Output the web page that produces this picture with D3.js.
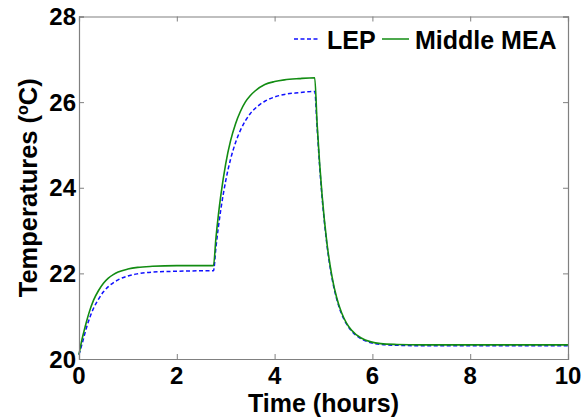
<!DOCTYPE html>
<html>
<head>
<meta charset="utf-8">
<script src="https://cdn.jsdelivr.net/npm/d3@7"></script>
<style>
  html, body { margin: 0; padding: 0; background: #fff; }
  svg { display: block; font-family: "Liberation Sans", Arial, sans-serif; }
</style>
</head>
<body>
<svg id="chart" width="582" height="419"></svg>
<script>
// ---- Data ----
const timeHours = [0,0.05,0.1,0.15,0.2,0.3,0.4,0.5,0.6,0.7,0.8,1.0,1.2,1.5,2.0,2.5,2.75,2.8,2.85,2.9,3.0,3.1,3.2,3.3,3.4,3.5,3.6,3.8,4.0,4.2,4.5,4.82,4.87,4.92,4.97,5.07,5.17,5.27,5.37,5.47,5.57,5.77,5.97,6.17,6.5,7,8,9,10];
const lepTemps = [20.1,20.30,20.51,20.72,20.90,21.19,21.40,21.57,21.69,21.78,21.85,21.94,21.99,22.03,22.05,22.06,22.06,22.60,23.08,23.49,24.16,24.67,25.05,25.34,25.56,25.73,25.85,26.02,26.12,26.18,26.22,26.25,25.40,24.52,23.79,22.67,21.91,21.40,21.05,20.82,20.66,20.47,20.38,20.34,20.32,20.31,20.31,20.31,20.31];
const meaTemps = [20.1,20.40,20.64,20.86,21.06,21.38,21.60,21.77,21.89,21.97,22.03,22.10,22.14,22.165,22.18,22.18,22.18,22.82,23.36,23.82,24.56,25.10,25.49,25.78,26.00,26.15,26.26,26.41,26.48,26.52,26.55,26.57,25.48,24.58,23.84,22.71,21.95,21.43,21.08,20.84,20.68,20.49,20.40,20.36,20.34,20.33,20.33,20.33,20.33];
const seriesNames = ["LEP", "Middle MEA"];
const xTicks = [0, 2, 4, 6, 8, 10];
const yTicks = [20, 22, 24, 26, 28];
const xLabel = "Time (hours)";

// ---- Layout ----
const svg = d3.select("#chart");
const L = 79, R = 568, T = 16.5, B = 359;
const x = d3.scaleLinear().domain([0, 10]).range([L, R]);
const y = d3.scaleLinear().domain([20, 28]).range([B, T]);
const axisColor = "#808080";

// Lines
const line = d3.line().x((d) => x(d[0])).y((d) => y(d[1])).curve(d3.curveMonotoneX);
const lepData = timeHours.map((t, i) => [t, lepTemps[i]]);
const meaData = timeHours.map((t, i) => [t, meaTemps[i]]);

svg.append("path").datum(lepData).attr("d", line)
  .attr("fill", "none").attr("stroke", "#1010ff").attr("stroke-width", 1.5)
  .attr("stroke-dasharray", "4,2.5");
svg.append("path").datum(meaData).attr("d", line)
  .attr("fill", "none").attr("stroke", "#128c12").attr("stroke-width", 1.6);

// Axes (box with inward ticks on all sides)
const tickLen = 5;
const axB = d3.axisBottom(x).tickValues(xTicks).tickSize(-tickLen).tickFormat("");
const axT = d3.axisTop(x).tickValues(xTicks).tickSize(-tickLen).tickFormat("");
const axL = d3.axisLeft(y).tickValues(yTicks).tickSize(-tickLen).tickFormat("");
const axR = d3.axisRight(y).tickValues(yTicks).tickSize(-tickLen).tickFormat("");
function styleAxis(g) {
  g.selectAll("path").attr("stroke", axisColor).attr("stroke-width", 1.2);
  g.selectAll("line").attr("stroke", axisColor).attr("stroke-width", 1);
}
svg.append("g").attr("transform", `translate(0,${B})`).call(axB).call(styleAxis);
svg.append("g").attr("transform", `translate(0,${T})`).call(axT).call(styleAxis);
svg.append("g").attr("transform", `translate(${L},0)`).call(axL).call(styleAxis);
svg.append("g").attr("transform", `translate(${R},0)`).call(axR).call(styleAxis);

// Tick labels
svg.append("g").selectAll("text").data(xTicks).join("text")
  .attr("x", (d) => x(d)).attr("y", 383.5)
  .attr("text-anchor", "middle").attr("font-size", 24).attr("font-weight", "bold")
  .attr("fill", "#000").text((d) => d);
svg.append("g").selectAll("text").data(yTicks).join("text")
  .attr("x", 76).attr("y", (d) => y(d) + 8.5)
  .attr("text-anchor", "end").attr("font-size", 24).attr("font-weight", "bold")
  .attr("fill", "#000").text((d) => d);

// Axis labels
svg.append("text").attr("x", (L + R) / 2).attr("y", 411.5)
  .attr("text-anchor", "middle").attr("font-size", 25).attr("font-weight", "bold")
  .text(xLabel);
const yl = svg.append("text")
  .attr("transform", `translate(37,${(T + B) / 2}) rotate(-90)`)
  .attr("text-anchor", "middle").attr("font-size", 25.5).attr("font-weight", "bold");
yl.append("tspan").text("Temperatures (");
yl.append("tspan").attr("font-size", 16).attr("dy", -9).text("o");
yl.append("tspan").attr("dy", 9).text("C)");

// Legend
const legend = svg.append("g");
const legItems = [
  { name: seriesNames[0], x0: 294, x1: 320, tx: 327, color: "#1010ff", dash: "4,2.5" },
  { name: seriesNames[1], x0: 382, x1: 409, tx: 415, color: "#128c12", dash: null }
];
legItems.forEach((it) => {
  legend.append("line").attr("x1", it.x0).attr("x2", it.x1).attr("y1", 39).attr("y2", 39)
    .attr("stroke", it.color).attr("stroke-width", 1.5)
    .attr("stroke-dasharray", it.dash);
  legend.append("text").attr("x", it.tx).attr("y", 48.5)
    .attr("font-size", 25).attr("font-weight", "bold").text(it.name);
});
</script>
</body>
</html>
